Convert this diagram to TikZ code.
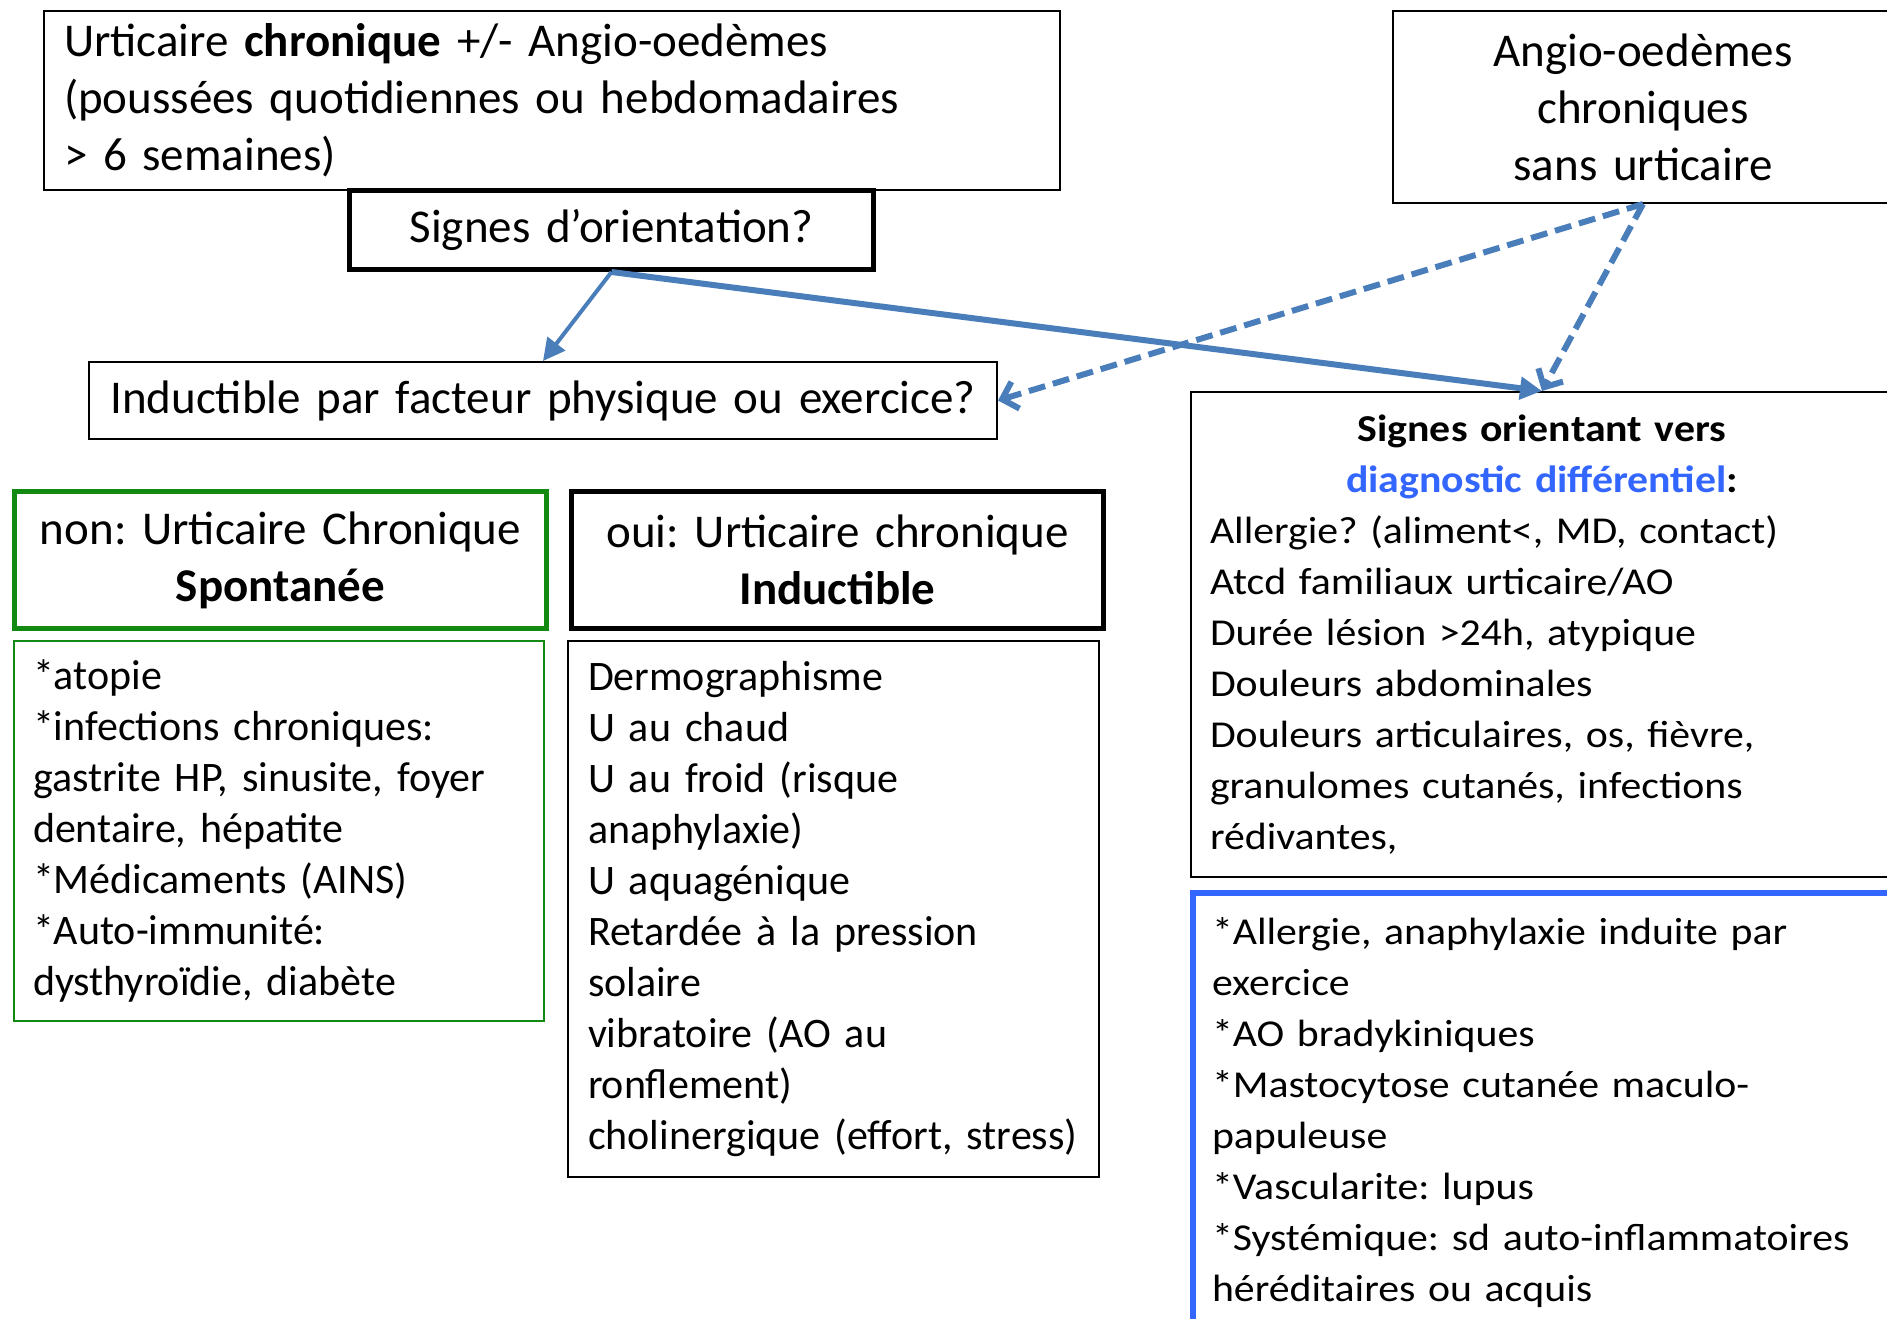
\documentclass[tikz,border=0pt]{standalone}
\usepackage{fontspec}
\setmainfont{Carlito}
\newfontfamily\widefont[FakeStretch=1.1]{Carlito}
\usetikzlibrary{arrows.meta}
\definecolor{arrowblue}{HTML}{4A7EBB}
\definecolor{diagblue}{HTML}{3366FF}
\definecolor{boxgreen}{HTML}{128A12}
\frenchspacing
\begin{document}
\frenchspacing
\begin{tikzpicture}[x=1pt,y=-1pt,
  box/.style={draw, rectangle, inner ysep=0pt, anchor=north west},
  thinbox/.style={box, line width=2pt},
  thickbox/.style={box, line width=5pt},
  bigtxt/.style={font=\frenchspacing\fontsize{47}{57}\selectfont},
  midtxt/.style={font=\frenchspacing\fontsize{42}{51}\selectfont},
  widetxt/.style={font=\frenchspacing\widefont\fontsize{38}{51}\selectfont},
  solidarrow/.style={draw=arrowblue, -{Triangle[length=22pt,width=22pt]}},
  dasharrow/.style={draw=arrowblue, line width=6pt, dash pattern=on 17pt off 8pt, -{Straight Barb[length=14pt,width=28pt]}}
]
\useasboundingbox (0,0) rectangle (1887,1319);
\fill[white] (0,0) rectangle (1887,1319);

\node[thinbox, bigtxt, text width=976pt, inner xsep=20pt, minimum height=179pt, align=left] (uc) at (43,10)
  {Urticaire \textbf{chronique} +/- Angio-oedèmes\\(poussées quotidiennes ou hebdomadaires\\> 6 semaines)};

\node[thickbox, bigtxt, text width=484pt, inner xsep=20pt, minimum height=79pt, align=center] (so) at (347,188)
  {Signes d’orientation?};

\node[thinbox, bigtxt, text width=868pt, inner xsep=20pt, minimum height=77pt, align=center] (ind) at (88,361)
  {Inductible par facteur physique ou exercice?};

\node[thinbox, bigtxt, text width=460pt, inner xsep=20pt, minimum height=192pt, align=center] (ao) at (1392,10)
  {Angio-oedèmes\\chroniques\\sans urticaire};

\node[thinbox, widetxt, text width=664pt, inner xsep=19pt, minimum height=485pt] (diag) at (1190,391)
  {\centering\textbf{Signes orientant vers}\\\textbf{\textcolor{diagblue}{diagnostic différentiel}:}\par
   \raggedright Allergie? (aliment<, MD, contact)\\Atcd familiaux urticaire/AO\\Durée lésion >24h, atypique\\Douleurs abdominales\\Douleurs articulaires, os, fièvre,\\granulomes cutanés, infections\\rédivantes,\par};

\node[box, draw=diagblue, line width=6pt, widetxt, text width=700pt, inner xsep=19pt, minimum height=440pt, align=left] (autres) at (1190,890)
  {*Allergie, anaphylaxie induite par\\exercice\\{}*AO bradykiniques\\{}*Mastocytose cutanée maculo-\\papuleuse\\{}*Vascularite: lupus\\{}*Systémique: sd auto-inflammatoires\\héréditaires ou acquis};

\node[thickbox, draw=boxgreen, bigtxt, text width=492pt, inner xsep=20pt, minimum height=137pt, align=center] (spont) at (12,489)
  {non: Urticaire Chronique\\\textbf{Spontanée}};

\node[thickbox, bigtxt, text width=492pt, inner xsep=20pt, minimum height=137pt, align=center] (induc) at (569,489)
  {oui: Urticaire chronique\\\textbf{Inductible}};

\node[thinbox, draw=boxgreen, midtxt, text width=492pt, inner xsep=19pt, minimum height=380pt, align=left] (spl) at (13,640)
  {*atopie\\{}*infections chroniques:\\gastrite HP, sinusite, foyer\\dentaire, hépatite\\{}*Médicaments (AINS)\\{}*Auto-immunité:\\dysthyroïdie, diabète};

\node[thinbox, midtxt, text width=491pt, inner xsep=20pt, minimum height=536pt, align=left] (inl) at (567,640)
  {Dermographisme\\U au chaud\\U au froid (risque\\anaphylaxie)\\U aquagénique\\Retardée à la pression\\solaire\\vibratoire (AO au\\ronflement)\\cholinergique (effort, stress)};

\draw[solidarrow, line width=4pt] (so.south) -- (ind.north);
\draw[solidarrow, line width=6pt] (so.south) -- (diag.north);
\draw[dasharrow] (ao.south) -- (ind.east);
\draw[dasharrow] (ao.south) -- (diag.north);
\end{tikzpicture}
\end{document}
